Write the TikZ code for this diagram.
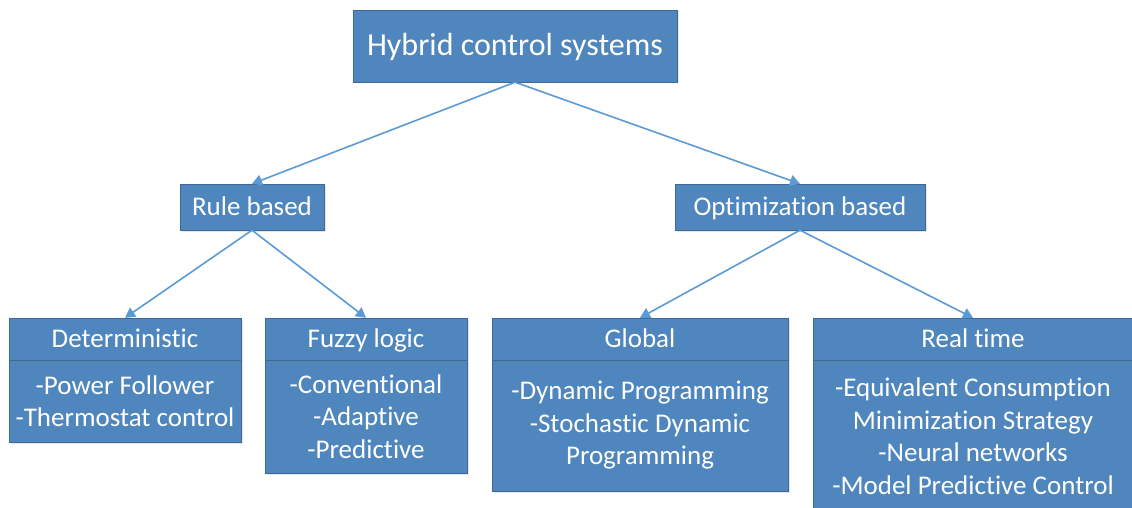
\documentclass[tikz,border=0pt]{standalone}
\usepackage{fontspec}
\setmainfont{Carlito}[Ligatures=NoCommon]
\usetikzlibrary{arrows.meta,shadows}

\definecolor{boxfill}{RGB}{79,134,189}
\definecolor{boxline}{RGB}{62,105,150}
\definecolor{linkcol}{RGB}{91,155,213}

\begin{document}
\begin{tikzpicture}[x=1pt,y=-1pt,
    box/.style={draw=boxline,fill=boxfill,text=white,inner sep=0pt,
        drop shadow={opacity=0.2,shadow xshift=1.5pt,shadow yshift=-1.5pt},
        font=\fontsize{27}{32.5}\selectfont,align=center},
    head/.style={box,text height=21.5pt,text depth=5.5pt},
    link/.style={draw=linkcol,line width=1.6pt,-{Triangle[length=10pt,width=11pt]}}]
        \useasboundingbox (0,0) rectangle (1132,508);

        % top level
        \node[head,minimum width=324pt,minimum height=72pt,text height=25.5pt,text depth=6.5pt,
              font=\fontsize{32}{38}\selectfont] (hybrid) at (515,46) {Hybrid control systems};

        % second level
        \node[head,minimum width=144pt,minimum height=46pt] (rule) at (252,207) {Rule based};
        \node[head,minimum width=250pt,minimum height=46pt] (optim) at (800,207) {Optimization based};

        % leaves: header and list underneath
        \node[box,minimum width=232pt,minimum height=82pt] (detbody) at (125,401)
            {-Power Follower\\-Thermostat control};
        \node[head,minimum width=232pt,minimum height=42pt] (det) at (125,339) {Deterministic};

        \node[box,minimum width=202pt,minimum height=113pt] (fuzzybody) at (366,416.5)
            {-Conventional\\-Adaptive\\-Predictive};
        \node[head,minimum width=202pt,minimum height=42pt] (fuzzy) at (366,339) {Fuzzy logic};

        \node[box,minimum width=296pt,minimum height=131pt] (globalbody) at (640,425.5)
            {-Dynamic Programming\\-Stochastic Dynamic\\Programming};
        \node[head,minimum width=296pt,minimum height=42pt] (global) at (640,339) {Global};

        \node[box,minimum width=320pt,minimum height=152pt] (realbody) at (973,436)
            {-Equivalent Consumption\\Minimization Strategy\\-Neural networks\\-Model Predictive Control};
        \node[head,minimum width=320pt,minimum height=42pt] (real) at (973,339) {Real time};

        % connectors
        \draw[link] (hybrid.south) -- (rule.north);
        \draw[link] (hybrid.south) -- (optim.north);
        \draw[link] (rule.south) -- (det.north);
        \draw[link] (rule.south) -- (fuzzy.north);
        \draw[link] (optim.south) -- (global.north);
        \draw[link] (optim.south) -- (real.north);
    \end{tikzpicture}
\end{document}
